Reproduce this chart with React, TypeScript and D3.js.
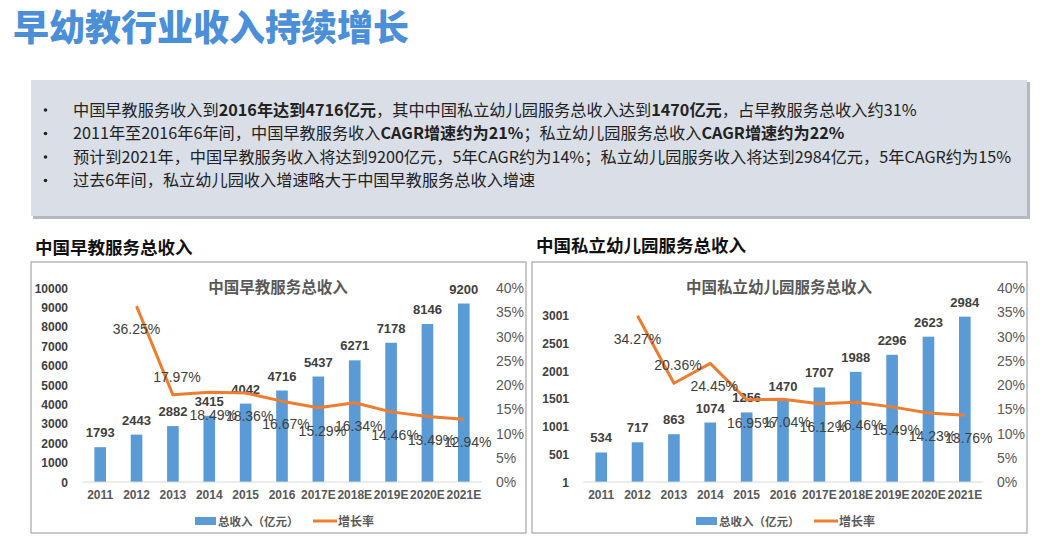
import React from "react";
import * as d3 from "d3";

const categories = ["2011", "2012", "2013", "2014", "2015", "2016", "2017E", "2018E", "2019E", "2020E", "2021E"];

const earlyEduRevenue = [1793, 2443, 2882, 3415, 4042, 4716, 5437, 6271, 7178, 8146, 9200];
const earlyEduGrowth: (number | null)[] = [null, 36.25, 17.97, 18.49, 18.36, 16.67, 15.29, 16.34, 14.46, 13.49, 12.94];

const kgRevenue = [534, 717, 863, 1074, 1256, 1470, 1707, 1988, 2296, 2623, 2984];
const kgGrowth: (number | null)[] = [null, 34.27, 20.36, 24.45, 16.95, 17.04, 16.12, 16.46, 15.49, 14.23, 13.76];

const earlyEduTicks = [0, 1000, 2000, 3000, 4000, 5000, 6000, 7000, 8000, 9000, 10000];
const kgTicks = [1, 501, 1001, 1501, 2001, 2501, 3001];
const pctTicks = [0, 5, 10, 15, 20, 25, 30, 35, 40];

const pageTitle = "早幼教行业收入持续增长";
const leftHeading = "中国早教服务总收入";
const rightHeading = "中国私立幼儿园服务总收入";
const legendBar = "总收入（亿元）";
const legendLine = "增长率";

type Seg = { t: string; b?: boolean };
const bullets: Seg[][] = [
  [
    { t: "中国早教服务收入到" },
    { t: "2016年达到4716亿元", b: true },
    { t: "，其中中国私立幼儿园服务总收入达到" },
    { t: "1470亿元", b: true },
    { t: "，占早教服务总收入约31%" },
  ],
  [
    { t: "2011年至2016年6年间，中国早教服务收入" },
    { t: "CAGR增速约为21%", b: true },
    { t: "；私立幼儿园服务总收入" },
    { t: "CAGR增速约为22%", b: true },
  ],
  [{ t: "预计到2021年，中国早教服务收入将达到9200亿元，5年CAGR约为14%；私立幼儿园服务收入将达到2984亿元，5年CAGR约为15%" }],
  [{ t: "过去6年间，私立幼儿园收入增速略大于中国早教服务总收入增速" }],
];

const BLUE = "#5b9bd5";
const ORANGE = "#ed7d31";
const CJK = "'Noto Sans CJK SC', 'Noto Sans', sans-serif";
const LAT = "'Liberation Sans', Arial, sans-serif";

type ChartProps = {
  x0: number;
  heading: string;
  title: string;
  revenue: number[];
  growth: (number | null)[];
  yDomain: [number, number];
  yTicks: number[];
  headingY: number;
};

function Chart({ x0, heading, title, revenue, growth, yDomain, yTicks, headingY }: ChartProps) {
  const boxX = x0;
  const boxY = 262;
  const boxW = 495;
  const boxH = 271;
  const plotL = x0 + 51;
  const plotR = x0 + 451;
  const plotTop = 288;
  const plotBot = 482;

  const x = d3.scaleBand<string>().domain(categories).range([plotL, plotR]).paddingInner(0.68).paddingOuter(0.34);
  const y = d3.scaleLinear().domain(yDomain).range([plotBot, plotTop]);
  const yp = d3.scaleLinear().domain([0, 40]).range([plotBot, plotTop]);
  const cx = (c: string) => (x(c) ?? 0) + x.bandwidth() / 2;

  const pts = categories
    .map((c, i) => ({ c, v: growth[i] }))
    .filter((d) => d.v !== null) as { c: string; v: number }[];
  const line = d3
    .line<{ c: string; v: number }>()
    .x((d) => cx(d.c))
    .y((d) => yp(d.v));

  return (
    <g>
      <text x={x0 + 4} y={headingY + 6} fontFamily={CJK} fontWeight={700} fontSize={17.5} fill="#111">
        {heading}
      </text>
      <rect x={boxX} y={boxY} width={boxW} height={boxH} fill="#fff" stroke="#a6a6a6" strokeWidth={1.2} />
      <text x={x0 + 247} y={293} textAnchor="middle" fontFamily={CJK} fontWeight={700} fontSize={15.5} fill="#595959">
        {title}
      </text>
      {/* left axis */}
      {yTicks.map((t) => (
        <text key={"l" + t} x={x0 + 37} y={y(t) + 4.5} textAnchor="end" fontFamily={LAT} fontWeight={700} fontSize={12} fill="#404040">
          {t}
        </text>
      ))}
      {/* right axis */}
      {pctTicks.map((t) => (
        <text key={"r" + t} x={x0 + 465} y={yp(t) + 5} fontFamily={LAT} fontSize={14} fill="#595959">
          {t}%
        </text>
      ))}
      {/* bars */}
      {categories.map((c, i) => (
        <rect key={"b" + c} x={x(c)} y={y(revenue[i])} width={x.bandwidth()} height={plotBot - y(revenue[i])} fill={BLUE} />
      ))}
      <line x1={plotL} x2={plotR} y1={plotBot} y2={plotBot} stroke="#d9d9d9" strokeWidth={1} />
      {/* bar labels */}
      {categories.map((c, i) => (
        <text key={"bl" + c} x={cx(c)} y={y(revenue[i]) - 10} textAnchor="middle" fontFamily={LAT} fontWeight={700} fontSize={13} fill="#404040">
          {revenue[i]}
        </text>
      ))}
      {/* x labels */}
      {categories.map((c) => (
        <text key={"x" + c} x={cx(c)} y={plotBot + 17} textAnchor="middle" fontFamily={LAT} fontWeight={700} fontSize={12} fill="#595959">
          {c}
        </text>
      ))}
      {/* growth line */}
      <path d={line(pts) ?? ""} fill="none" stroke={ORANGE} strokeWidth={3} strokeLinejoin="round" />
      {pts.map((d, i) => {
        const above = i === 1;
        return (
          <text
            key={"p" + d.c}
            x={cx(d.c) + (i === 0 ? 0 : 4)}
            y={yp(d.v) + (above ? -18 : 23) + 5}
            textAnchor="middle"
            fontFamily={LAT}
            fontSize={14}
            fill="#404040"
          >
            {d.v.toFixed(2)}%
          </text>
        );
      })}
      {/* legend */}
      <rect x={x0 + 164} y={517} width={21} height={8} fill={BLUE} />
      <text x={x0 + 187} y={526} fontFamily={CJK} fontWeight={700} fontSize={11.5} fill="#595959">
        {legendBar}
      </text>
      <line x1={x0 + 282} x2={x0 + 306} y1={521} y2={521} stroke={ORANGE} strokeWidth={3} />
      <text x={x0 + 307} y={526} fontFamily={CJK} fontWeight={700} fontSize={12} fill="#595959">
        {legendLine}
      </text>
    </g>
  );
}

export default function App() {
  const lineYs = [110, 133.5, 157, 180.5];
  return (
    <svg width={1046} height={551} style={{ position: "absolute", left: 0, top: 0, background: "#fff" }}>
      <rect x={0} y={0} width={1046} height={551} fill="#fff" />
      <text x={13} y={41} fontFamily={CJK} fontWeight={900} fontSize={36} fill="#4a8fd8">
        {pageTitle}
      </text>
      {/* summary box */}
      <rect x={33} y={82} width={997} height={137} fill="#b4b8bf" />
      <rect x={31} y={80} width={996} height={136} fill="#d9dee7" />
      {bullets.map((segs, i) => (
        <g key={"bu" + i}>
          <circle cx={45.5} cy={lineYs[i]} r={1.8} fill="#222" />
          <text x={73} y={lineYs[i] + 5.8} fontFamily={CJK} fontSize={16.2} fill="#222">
            {segs.map((s, j) => (
              <tspan key={j} fontWeight={s.b ? 700 : 400}>
                {s.t}
              </tspan>
            ))}
          </text>
        </g>
      ))}
      <Chart
        x0={31}
        heading={leftHeading}
        title={leftHeading}
        revenue={earlyEduRevenue}
        growth={earlyEduGrowth}
        yDomain={[0, 10000]}
        yTicks={earlyEduTicks}
        headingY={248}
      />
      <Chart
        x0={532}
        heading={rightHeading}
        title={"中国私立幼儿园服务总收入"}
        revenue={kgRevenue}
        growth={kgGrowth}
        yDomain={[1, 3501]}
        yTicks={kgTicks}
        headingY={246}
      />
    </svg>
  );
}
